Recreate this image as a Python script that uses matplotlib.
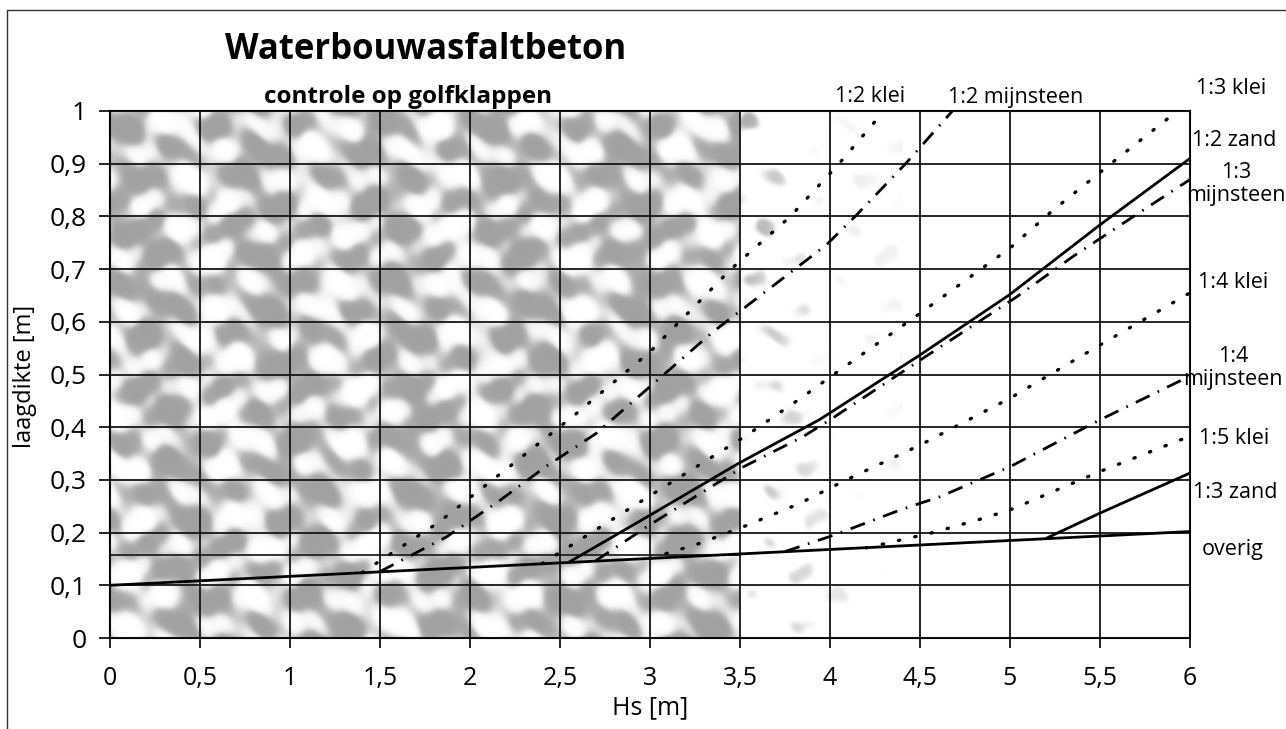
import numpy as np
import matplotlib
matplotlib.use("Agg")
import matplotlib.pyplot as plt
from matplotlib.lines import Line2D

plt.rcParams['font.family'] = ['Open Sans', 'DejaVu Sans']

# ---------------- data ----------------
x_ticks = [0, 0.5, 1, 1.5, 2, 2.5, 3, 3.5, 4, 4.5, 5, 5.5, 6]
x_ticklabels = ["0", "0,5", "1", "1,5", "2", "2,5", "3", "3,5", "4", "4,5", "5", "5,5", "6"]
y_ticks = [0, 0.1, 0.2, 0.3, 0.4, 0.5, 0.6, 0.7, 0.8, 0.9, 1.0]
y_ticklabels = ["0", "0,1", "0,2", "0,3", "0,4", "0,5", "0,6", "0,7", "0,8", "0,9", "1"]

overig_x = [0.0, 6.0]
overig_y = [0.100, 0.202]

klei_1_2_x = [1.40, 1.82, 2.20, 2.57, 3.00, 3.45, 3.78, 4.05, 4.30]
klei_1_2_y = [0.124, 0.218, 0.320, 0.420, 0.543, 0.700, 0.800, 0.900, 1.000]

mijn_1_2_x = [1.50, 1.87, 2.17, 2.42, 2.70, 3.00, 3.35, 3.66, 3.98, 4.14, 4.42, 4.68]
mijn_1_2_y = [0.126, 0.192, 0.262, 0.325, 0.388, 0.477, 0.581, 0.662, 0.746, 0.800, 0.900, 1.000]

klei_1_3_x = [2.40, 3.00, 3.53, 3.85, 4.00, 4.50, 5.00, 5.24, 5.56, 5.93]
klei_1_3_y = [0.141, 0.270, 0.383, 0.458, 0.495, 0.616, 0.740, 0.812, 0.900, 1.000]

zand_1_2_x = [2.55, 3.00, 3.49, 3.94, 4.50, 5.00, 5.50, 6.00]
zand_1_2_y = [0.144, 0.233, 0.331, 0.414, 0.537, 0.652, 0.784, 0.910]

mijn_1_3_x = [2.70, 3.00, 3.52, 3.85, 4.00, 4.50, 5.04, 5.35, 5.70, 6.00]
mijn_1_3_y = [0.147, 0.215, 0.325, 0.382, 0.414, 0.527, 0.648, 0.724, 0.803, 0.870]

klei_1_4_x = [3.00, 3.28, 3.54, 3.83, 4.09, 4.50, 5.00, 5.50, 6.00]
klei_1_4_y = [0.151, 0.180, 0.214, 0.255, 0.300, 0.366, 0.455, 0.556, 0.655]

mijn_1_4_x = [3.75, 4.02, 4.39, 4.61, 5.00, 5.50, 6.00]
mijn_1_4_y = [0.164, 0.195, 0.243, 0.268, 0.325, 0.414, 0.497]

klei_1_5_x = [4.20, 4.56, 4.82, 5.00, 5.50, 6.00]
klei_1_5_y = [0.171, 0.199, 0.224, 0.243, 0.316, 0.383]

zand_1_3_x = [5.20, 5.50, 6.00]
zand_1_3_y = [0.189, 0.237, 0.313]

band_x = [0.0, 3.5]
band_y = [0.157, 0.157]

# ---------------- figure ----------------
W, H = 1286, 729
fig = plt.figure(figsize=(W / 100, H / 100), dpi=100)
fig.patch.set_facecolor("white")

def fx(px):
    return px / W

def fy(py):
    return 1 - py / H

ax = fig.add_axes([fx(110), fy(638), fx(1190) - fx(110), fy(111) - fy(638)])

# scanned mottled background (decorative, deterministic pattern)
gx = np.linspace(0, 4.4, 1000)
gy = np.linspace(0, 1, 400)
GX, GY = np.meshgrid(gx, gy)
f = (np.sin(2 * np.pi * GX / 0.50 + 1.0 * np.sin(2 * np.pi * GY / 0.31))
     * np.sin(2 * np.pi * GY / 0.100 + 0.5 * np.sin(2 * np.pi * GX / 0.41))
     + 0.30 * np.sin(2 * np.pi * (1.3 * GX + 0.6 * GY) / 0.9)
     + 0.18 * np.sin(2 * np.pi * (GX * 3.1 - GY * 1.3) / 0.7)
     + 0.10 * np.sin(2 * np.pi * (GX * 7.0 + GY * 11.0) / 0.9))
soft = 1 / (1 + np.exp(-(f - 0.05) * 5))          # 1 -> white cloud
g = 0.63 + 0.37 * soft
# beyond Hs = 3.5 only sparse small grey speckles remain
speck = 1 / (1 + np.exp((f + 1.0) * 9))
fade = np.exp(-np.clip(GX - 3.5, 0, None) / 0.45)
g = np.where(GX > 3.5, 1 - 0.35 * speck * fade, g)
g = np.clip(g, 0, 1)
ax.imshow(g, extent=[0, 4.4, 0, 1], origin="lower", cmap="gray", vmin=0, vmax=1,
          aspect="auto", interpolation="bilinear", zorder=0)

ax.set_xlim(0, 6)
ax.set_ylim(0, 1)
ax.set_xticks(x_ticks)
ax.set_xticklabels(x_ticklabels)
ax.set_yticks(y_ticks)
ax.set_yticklabels(y_ticklabels)
ax.grid(True, color="#151515", lw=1.3, zorder=1)
ax.set_axisbelow(False)
for s in ax.spines.values():
    s.set_color("black")
    s.set_linewidth(1.5)
ax.tick_params(axis="x", direction="out", length=7, width=1.2, color="black",
               labelsize=18, pad=13)
ax.tick_params(axis="y", direction="out", length=8, width=1.2, color="black",
               labelsize=19, pad=9)

ax.plot(band_x, band_y, color="#222222", lw=1.3, zorder=2)

solid = dict(color="black", lw=2.0, zorder=3, solid_capstyle="butt")
dot = dict(color="black", lw=2.4, linestyle=(0, (0.4, 4.6)), dash_capstyle="round", zorder=3)
dashdot = dict(color="black", lw=2.0, linestyle=(0, (5.5, 3.2, 0.6, 3.2)), zorder=3)

ax.plot(overig_x, overig_y, **solid)
ax.plot(klei_1_2_x, klei_1_2_y, **dot)
ax.plot(mijn_1_2_x, mijn_1_2_y, **dashdot)
ax.plot(klei_1_3_x, klei_1_3_y, **dot)
ax.plot(zand_1_2_x, zand_1_2_y, **solid)
ax.plot(mijn_1_3_x, mijn_1_3_y, **dashdot)
ax.plot(klei_1_4_x, klei_1_4_y, **dot)
ax.plot(mijn_1_4_x, mijn_1_4_y, **dashdot)
ax.plot(klei_1_5_x, klei_1_5_y, **dot)
ax.plot(zand_1_3_x, zand_1_3_y, **solid)

ax.set_xlabel("Hs [m]", fontsize=18, labelpad=3)
fig.text(fx(25), fy(376), "laagdikte [m]", fontsize=17, rotation=90,
         ha="center", va="center")

# titles
fig.text(fx(426), fy(50), "Waterbouwasfaltbeton", fontsize=25, fontweight="bold",
         ha="center", va="center")
fig.text(fx(408), fy(97), "controle op golfklappen", fontsize=17.5, fontweight="bold",
         ha="center", va="center")

# series labels
lab = dict(fontsize=15.5, ha="center", va="center")
fig.text(fx(870), fy(97), "1:2 klei", **lab)
fig.text(fx(1016), fy(97), "1:2 mijnsteen", **lab)
fig.text(fx(1231), fy(88), "1:3 klei", **lab)
fig.text(fx(1234), fy(140), "1:2 zand", **lab)
fig.text(fx(1236), fy(184), "1:3\nmijnsteen", linespacing=1.1, **lab)
fig.text(fx(1233), fy(283), "1:4 klei", **lab)
fig.text(fx(1233), fy(368), "1:4\nmijnsteen", linespacing=1.1, **lab)
fig.text(fx(1234), fy(439), "1:5 klei", **lab)
fig.text(fx(1235), fy(493), "1:3 zand", **lab)
fig.text(fx(1233), fy(549), "overig", **lab)

# scanned page frame
fig.add_artist(Line2D([fx(7), fx(7), 1.0], [0.0, fy(10), fy(10)],
                      transform=fig.transFigure, color="#333333", lw=1.0))

fig.savefig("out.png", dpi=100)
